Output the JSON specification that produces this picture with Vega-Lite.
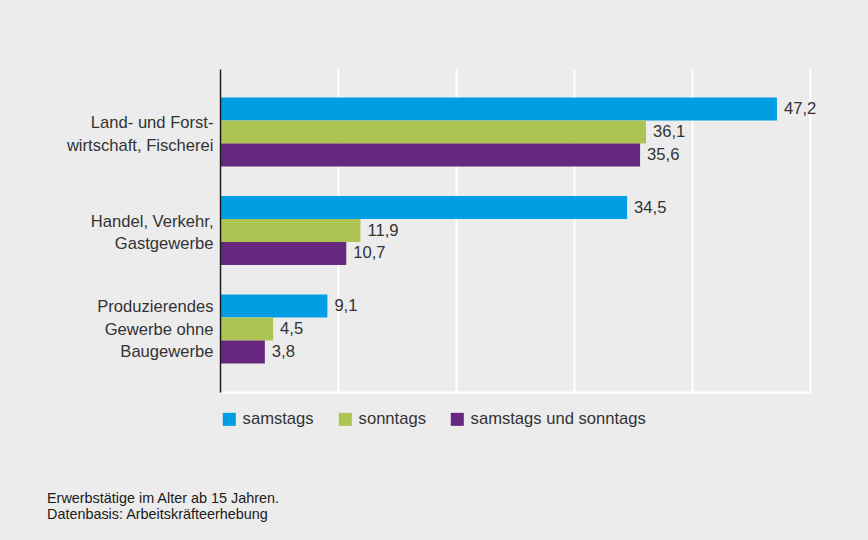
{
  "$schema": "https://vega.github.io/schema/vega-lite/v6.json",
  "width": 590,
  "height": 323,
  "autosize": {"type": "none"},
  "padding": {"left": 220, "top": 69, "right": 58, "bottom": 148},
  "background": "#ececec",
  "config": {
    "view": {"stroke": null},
    "font": "Liberation Sans",
    "locale": {"number": {"decimal": ",", "thousands": ".", "grouping": [3], "currency": ["", " €"]}}
  },
  "title": {
    "text": ["Erwerbstätige im Alter ab 15 Jahren.", "Datenbasis: Arbeitskräfteerhebung"],
    "orient": "bottom",
    "anchor": "start",
    "frame": "group",
    "dx": -173,
    "offset": 64,
    "fontSize": 14.4,
    "fontWeight": "normal",
    "color": "#1a1a1a",
    "lineHeight": 16
  },
  "data": {
    "values": [
      {"branche": "Land- und Forstwirtschaft, Fischerei", "tag": "samstags", "anteil": 47.2},
      {"branche": "Land- und Forstwirtschaft, Fischerei", "tag": "sonntags", "anteil": 36.1},
      {"branche": "Land- und Forstwirtschaft, Fischerei", "tag": "samstags und sonntags", "anteil": 35.6},
      {"branche": "Handel, Verkehr, Gastgewerbe", "tag": "samstags", "anteil": 34.5},
      {"branche": "Handel, Verkehr, Gastgewerbe", "tag": "sonntags", "anteil": 11.9},
      {"branche": "Handel, Verkehr, Gastgewerbe", "tag": "samstags und sonntags", "anteil": 10.7},
      {"branche": "Produzierendes Gewerbe ohne Baugewerbe", "tag": "samstags", "anteil": 9.1},
      {"branche": "Produzierendes Gewerbe ohne Baugewerbe", "tag": "sonntags", "anteil": 4.5},
      {"branche": "Produzierendes Gewerbe ohne Baugewerbe", "tag": "samstags und sonntags", "anteil": 3.8}
    ]
  },
  "encoding": {
    "y": {
      "field": "branche",
      "type": "nominal",
      "sort": null,
      "scale": {"paddingInner": 0.3, "paddingOuter": 0.29},
      "axis": {
        "title": null,
        "ticks": false,
        "domainColor": "#1a1a1a",
        "domainWidth": 1.5,
        "labelFontSize": 16.6,
        "labelColor": "#333333",
        "labelPadding": 7,
        "labelLineHeight": 22.6,
        "labelLimit": 300,
        "labelOffset": {"condition": {"test": "datum.value == 'Produzierendes Gewerbe ohne Baugewerbe'", "value": -22}, "value": -9},
        "zindex": 1,
        "labelExpr": "datum.value == 'Land- und Forstwirtschaft, Fischerei' ? ['Land- und Forst-', 'wirtschaft, Fischerei'] : datum.value == 'Handel, Verkehr, Gastgewerbe' ? ['Handel, Verkehr,', 'Gastgewerbe'] : ['Produzierendes', 'Gewerbe ohne', 'Baugewerbe']"
      }
    },
    "yOffset": {
      "field": "tag",
      "type": "nominal",
      "sort": ["samstags", "sonntags", "samstags und sonntags"],
      "scale": {"paddingInner": 0, "paddingOuter": 0}
    },
    "x": {
      "field": "anteil",
      "type": "quantitative",
      "scale": {"domain": [0, 50], "nice": false},
      "axis": {
        "title": null,
        "labels": false,
        "ticks": false,
        "values": [0, 10, 20, 30, 40, 50],
        "grid": true,
        "gridColor": "#ffffff",
        "gridWidth": 2,
        "gridOpacity": 1,
        "domainColor": "#ffffff",
        "domainWidth": 2
      }
    }
  },
  "layer": [
    {
      "mark": {"type": "bar"},
      "encoding": {
        "color": {
          "field": "tag",
          "type": "nominal",
          "scale": {
            "domain": ["samstags", "sonntags", "samstags und sonntags"],
            "range": ["#009fe3", "#adc452", "#67287f"]
          },
          "legend": {
            "title": null,
            "orient": "none",
            "direction": "horizontal",
            "legendX": 1,
            "legendY": 342,
            "symbolType": "square",
            "symbolSize": 169,
            "symbolStrokeWidth": 0,
            "symbolOpacity": 1,
            "labelFontSize": 16.6,
            "labelColor": "#333333",
            "labelOffset": 5,
            "columnPadding": 23,
            "labelLimit": 300
          }
        }
      }
    },
    {
      "mark": {"type": "text", "align": "left", "baseline": "middle", "dx": 7, "fontSize": 16.6, "color": "#333333"},
      "encoding": {
        "text": {"field": "anteil", "type": "quantitative", "format": ".1f"}
      }
    }
  ]
}
